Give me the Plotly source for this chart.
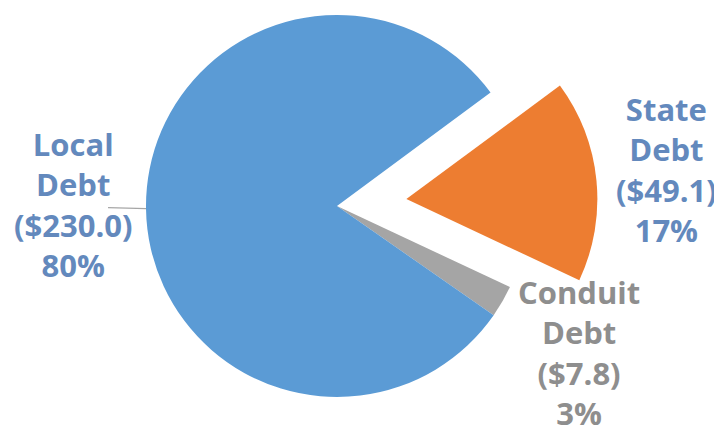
import math
import plotly.graph_objects as go

# ---- data ----
names = ["State<br>Debt", "Conduit<br>Debt", "Local<br>Debt"]
values = [49.1, 7.8, 230.0]
slice_colors = ["#ED7D31", "#A5A5A5", "#5B9BD5"]
label_colors = ["#6389BD", "#8E8E8E", "#6389BD"]
exploded = [True, False, False]

# ---- layout / style parameters ----
W, H = 722, 436
R_PX = 191            # pie radius (px)
CX, CY = 329, 198     # pie centre (px, from figure top-left)
PULL = 0.365          # explode distance as fraction of radius
ROT = 53.5            # start of first slice, degrees clockwise from 12 o'clock
# label centre offsets (px) from the slice's outer-edge midpoint
LABEL_OFFSETS = [(70, -11), (77, 51), (-73, -4)]
LEADER = [False, False, True]
FONT = dict(family="Open Sans", size=31, weight="bold")

total = sum(values)
pct = [v / total * 100 for v in values]

# slice mid angles (clockwise from 12 o'clock)
mids = []
acc = 0.0
for v in values:
    mids.append(ROT + (acc + v / 2) / total * 360)
    acc += v


def unit(deg):
    a = math.radians(deg)
    return math.sin(a), -math.cos(a)   # screen coords (y down)


centres = []
for m, e in zip(mids, exploded):
    ux, uy = unit(m)
    p = PULL * R_PX if e else 0.0
    centres.append((CX + p * ux, CY + p * uy))


def clamp(v):
    return min(1.0, max(0.0, v))


def domain(cx, cy):
    xc = cx / W
    yc = 1 - cy / H
    return dict(x=[clamp(xc - R_PX / W), clamp(xc + R_PX / W)],
                y=[clamp(yc - R_PX / H), clamp(yc + R_PX / H)])


def px2paper(x, y):
    return x / W, 1 - y / H


TRANSPARENT = "rgba(0,0,0,0)"
fig = go.Figure()
fig.add_trace(go.Pie(
    labels=names, values=values, sort=False, direction="clockwise", rotation=ROT,
    marker=dict(colors=[TRANSPARENT if e else c for c, e in zip(slice_colors, exploded)],
                line=dict(width=0)),
    textposition="none", automargin=False,
    domain=domain(CX, CY), showlegend=False, hoverinfo="skip",
))
ex_c = next(c for c, e in zip(centres, exploded) if e)
fig.add_trace(go.Pie(
    labels=names, values=values, sort=False, direction="clockwise", rotation=ROT,
    marker=dict(colors=[c if e else TRANSPARENT for c, e in zip(slice_colors, exploded)],
                line=dict(width=0)),
    textposition="none", automargin=False,
    domain=domain(*ex_c), showlegend=False, hoverinfo="skip",
))

for i, (nm, v, p) in enumerate(zip(names, values, pct)):
    ux, uy = unit(mids[i])
    ex, ey = centres[i][0] + R_PX * ux, centres[i][1] + R_PX * uy
    ox, oy = LABEL_OFFSETS[i]
    x, y = px2paper(ex + ox, ey + oy)
    fig.add_annotation(
        x=x, y=y, xref="paper", yref="paper", xanchor="center", yanchor="middle",
        text=f"{nm}<br>(${v:.1f})<br>{p:.0f}%", showarrow=False, align="center",
        font=dict(color=label_colors[i], **FONT),
    )
    if LEADER[i]:
        x0, y0 = px2paper(ex - 38, ey - 1)
        x1, y1 = px2paper(ex, ey)
        fig.add_shape(type="line", xref="paper", yref="paper", x0=x0, y0=y0, x1=x1, y1=y1,
                      line=dict(color="#A6A6A6", width=1.2), layer="below")

fig.update_layout(
    width=W, height=H,
    margin=dict(l=0, r=0, t=0, b=0),
    paper_bgcolor="white", plot_bgcolor="white",
)
fig.write_html("out.html")
